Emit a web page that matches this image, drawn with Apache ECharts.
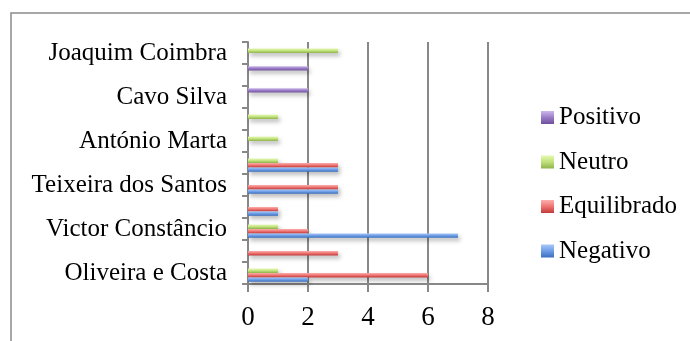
<!DOCTYPE html>
<html>
<head>
<meta charset="utf-8">
<script src="https://cdn.jsdelivr.net/npm/echarts@6/dist/echarts.min.js"></script>
<style>
  html, body { margin: 0; padding: 0; background: #fff; }
  #chart { width: 690px; height: 341px; }
</style>
</head>
<body>
<div id="chart"></div>
<script>
// categorias de baixo para cima (Excel só mostra uma em cada duas)
const categories = ['Oliveira e Costa', '', 'Victor Constâncio', ' ', 'Teixeira dos Santos', '  ',
  'António Marta', '   ', 'Cavo Silva', '    ', 'Joaquim Coimbra'];
const negativo    = [2, 0, 7, 1, 3, 3, 0, 0, 0, 0, 0];
const equilibrado = [6, 3, 2, 1, 3, 3, 0, 0, 0, 0, 0];
const neutro      = [1, 0, 1, 0, 0, 1, 1, 1, 0, 0, 3];
const positivo    = [0, 0, 0, 0, 0, 0, 0, 0, 2, 2, 0];
const xTicks = [0, 2, 4, 6, 8];

const FONT = '"Liberation Serif", serif';

function grad(light, mid, dark) {
  return new echarts.graphic.LinearGradient(0, 0, 0, 1, [
    { offset: 0, color: light },
    { offset: 0.5, color: mid },
    { offset: 1, color: dark }
  ]);
}

function barSeries(name, data, colors) {
  return {
    name: name,
    type: 'bar',
    data: data,
    barGap: '0%',
    barCategoryGap: '20%',
    itemStyle: {
      color: grad(colors[0], colors[1], colors[2]),
      shadowColor: 'rgba(0,0,0,0.28)',
      shadowBlur: 4,
      shadowOffsetX: 2,
      shadowOffsetY: 3
    }
  };
}

function render() {
  const el = document.getElementById('chart');
  const chart = echarts.init(el);
  chart.setOption({
    animation: false,
    backgroundColor: '#fff',
    graphic: [{
      type: 'rect',
      shape: { x: 11, y: 13, width: 720, height: 400 },
      style: { fill: null, stroke: '#8a8a8a', lineWidth: 1.5 },
      silent: true
    }],
    grid: { left: 248, right: 202, top: 42, bottom: 57 },
    legend: {
      orient: 'vertical',
      left: 536,
      top: 100,
      itemWidth: 13,
      itemHeight: 13,
      itemGap: 19.5,
      icon: 'rect',
      itemStyle: { shadowBlur: 0, shadowOffsetX: 0, shadowOffsetY: 0 },
      textStyle: { fontFamily: FONT, fontSize: 25, color: '#000', lineHeight: 24 },
      data: ['Positivo', 'Neutro', 'Equilibrado', 'Negativo']
    },
    xAxis: {
      type: 'value',
      min: 0,
      max: 8,
      interval: 2,
      axisLine: { show: true, lineStyle: { color: '#888', width: 2 } },
      axisTick: { show: true, length: 8, lineStyle: { color: '#888', width: 2 } },
      axisLabel: {
        margin: 20,
        fontFamily: FONT, fontSize: 27, color: '#000',
        formatter: v => (xTicks.indexOf(v) >= 0 ? String(v) : '')
      },
      splitLine: { show: true, lineStyle: { color: '#888', width: 2 } }
    },
    yAxis: {
      type: 'category',
      data: categories,
      axisLine: { show: true, lineStyle: { color: '#888', width: 2 } },
      axisTick: { show: true, interval: 0, length: 6, lineStyle: { color: '#888', width: 2 } },
      axisLabel: { interval: 1, margin: 21, fontFamily: FONT, fontSize: 25, color: '#000' },
      splitLine: { show: false }
    },
    series: [
      barSeries('Positivo', positivo, ['#cdb8ec', '#9a7cc6', '#6f4f9c']),
      barSeries('Neutro', neutro, ['#e6f9b0', '#bfe07a', '#8fb34a']),
      barSeries('Equilibrado', equilibrado, ['#fbb0ae', '#ee7472', '#c23a38']),
      barSeries('Negativo', negativo, ['#a8c8f8', '#6d9de6', '#3a6dbd'])
    ]
  });
}

window.addEventListener('DOMContentLoaded', render);
</script>
</body>
</html>
